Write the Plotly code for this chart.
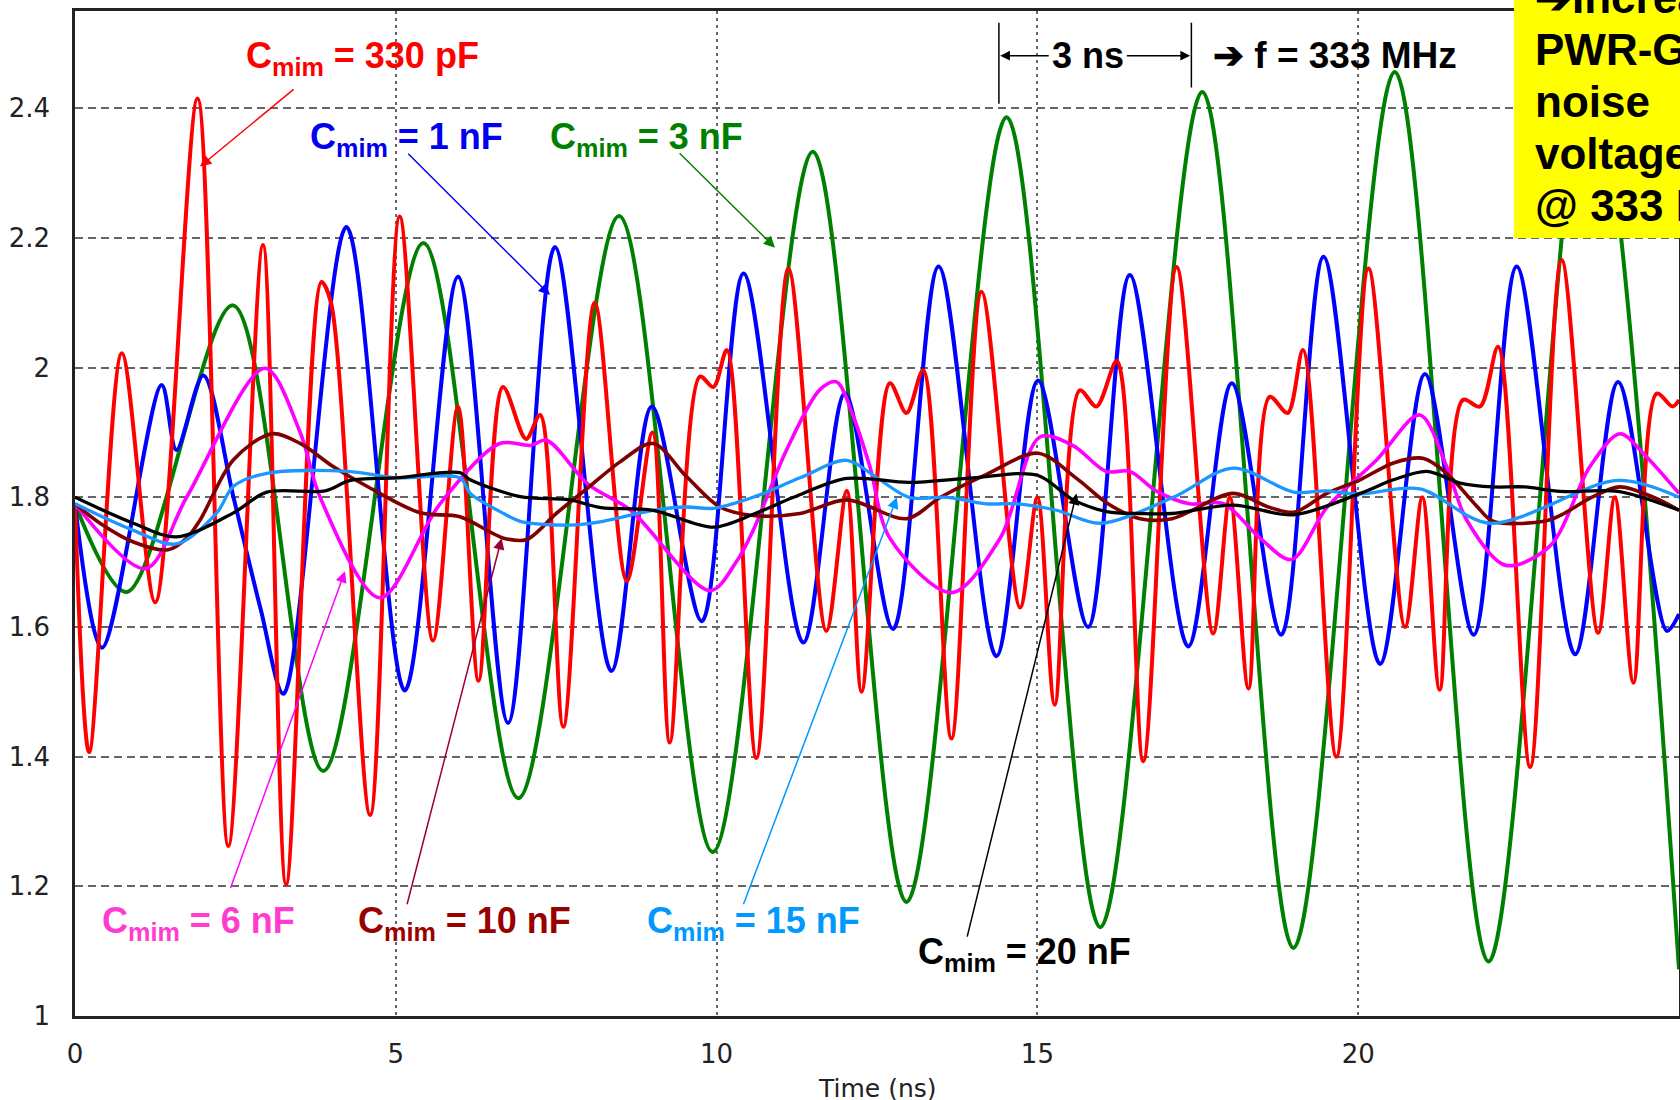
import plotly.graph_objects as go

# ---------------- data ----------------
# C_mim = 330 pF (red)
red_t = [0, 0.22, 0.73, 1.25, 1.91, 2.39, 2.93, 3.29, 3.84, 3.99, 4.6, 5.06, 5.58, 5.97, 6.29,
         6.67, 7.03, 7.25, 7.61, 8.1, 8.6, 9.0, 9.27, 9.74, 9.95, 10.16, 10.62, 11.12, 11.71,
         12.03, 12.26, 12.7, 12.96, 13.22, 13.66, 14.13, 14.73, 15.0, 15.27, 15.66, 15.92, 16.24,
         16.65, 17.17, 17.74, 18.0, 18.29, 18.62, 18.9, 19.14, 19.66, 20.16, 20.73, 21.0, 21.27,
         21.63, 21.9, 22.18, 22.68, 23.17, 23.74, 24.0, 24.29, 24.65, 24.9, 25.0]
red_v = [1.79, 1.407, 2.022, 1.638, 2.415, 1.262, 2.189, 1.203, 2.132, 2.10, 1.31, 2.233, 1.579,
         1.94, 1.517, 1.970, 1.89, 1.927, 1.446, 2.10, 1.671, 1.90, 1.422, 1.986, 1.97, 2.027,
         1.398, 2.153, 1.594, 1.81, 1.50, 1.976, 1.93, 1.996, 1.428, 2.117, 1.63, 1.80, 1.48,
         1.965, 1.94, 2.01, 1.393, 2.155, 1.59, 1.80, 1.505, 1.955, 1.93, 2.027, 1.40, 2.153,
         1.60, 1.80, 1.503, 1.95, 1.94, 2.032, 1.384, 2.166, 1.591, 1.80, 1.514, 1.96, 1.94, 1.95]

# C_mim = 1 nF (blue)
blue_t = [0, 0.42, 1.35, 1.58, 2.0, 2.47, 2.9, 3.25, 4.23, 5.14, 5.97, 6.75, 7.48, 8.36, 8.99,
          9.77, 10.42, 11.35, 12.0, 12.75, 13.46, 14.36, 15.01, 15.79, 16.44, 17.35, 18.03, 18.8,
          19.46, 20.34, 21.04, 21.8, 22.47, 23.38, 24.05, 24.81, 25.0]
blue_v = [1.79, 1.568, 1.973, 1.873, 1.988, 1.80, 1.625, 1.497, 2.217, 1.502, 2.14, 1.452, 2.186,
          1.532, 1.94, 1.609, 2.145, 1.576, 1.96, 1.597, 2.156, 1.555, 1.98, 1.60, 2.143, 1.57,
          1.976, 1.588, 2.171, 1.543, 1.99, 1.588, 2.156, 1.558, 1.978, 1.594, 1.62]

# C_mim = 3 nF (green)
green_t = [0, 0.81, 2.46, 3.87, 5.43, 6.91, 8.48, 9.94, 11.50, 12.96, 14.52, 15.98, 17.57, 18.99,
           20.57, 22.03, 23.6, 25.0]
green_v = [1.79, 1.654, 2.096, 1.378, 2.192, 1.336, 2.234, 1.253, 2.333, 1.176, 2.386, 1.137,
           2.425, 1.105, 2.456, 1.084, 2.48, 1.072]

# C_mim = 6 nF (magenta)
mag_t = [0, 1.1, 1.74, 2.96, 3.51, 3.82, 4.75, 5.69, 6.62, 7.1, 7.35, 8.0, 8.66, 9.9, 10.31,
         10.57, 11.09, 11.61, 11.87, 12.13, 12.39, 12.7, 13.66, 14.42, 15.04, 15.55, 16.07, 16.44,
         16.85, 17.37, 17.9, 18.47, 18.96, 19.51, 20.29, 20.96, 21.38, 21.69, 22.3, 22.99, 23.61,
         24.08, 24.44, 25.0]
mag_v = [1.79, 1.69, 1.80, 1.999, 1.90, 1.80, 1.645, 1.79, 1.883, 1.88, 1.888, 1.82, 1.78, 1.656,
         1.701, 1.749, 1.873, 1.966, 1.978, 1.925, 1.847, 1.737, 1.653, 1.737, 1.893, 1.88, 1.84,
         1.84, 1.81, 1.79, 1.79, 1.737, 1.704, 1.784, 1.858, 1.927, 1.847, 1.765, 1.695, 1.725,
         1.847, 1.898, 1.868, 1.806]

# C_mim = 10 nF (dark red)
dred_t = [0, 0.39, 0.91, 1.45, 1.74, 1.95, 2.47, 3.07, 3.51, 4.03, 4.55, 5.38, 6.0, 6.68, 7.04,
          7.5, 8.0, 8.5, 9.01, 9.53, 10.05, 10.57, 11.3, 12.03, 12.96, 13.49, 14.2, 15.01, 15.6,
          16.1, 16.6, 17.1, 18.05, 18.6, 19.0, 19.51, 20.03, 20.55, 21.02, 21.38, 21.85, 22.1,
          22.9, 23.15, 23.66, 24.08, 24.6, 25.0]
dred_v = [1.79, 1.76, 1.731, 1.719, 1.737, 1.765, 1.858, 1.898, 1.883, 1.847, 1.817, 1.776, 1.77,
          1.737, 1.735, 1.775, 1.815, 1.855, 1.883, 1.832, 1.785, 1.772, 1.775, 1.796, 1.767, 1.80,
          1.835, 1.868, 1.83, 1.79, 1.767, 1.767, 1.806, 1.785, 1.777, 1.806, 1.827, 1.853, 1.86,
          1.837, 1.786, 1.763, 1.763, 1.772, 1.801, 1.816, 1.80, 1.78]

# C_mim = 15 nF (light blue)
lblue_t = [0, 0.91, 1.58, 2.21, 2.47, 2.99, 4.25, 5.0, 6.0, 6.16, 6.68, 6.94, 7.71, 8.23, 9.01,
           9.53, 9.95, 10.57, 11.3, 12.03, 12.5, 13.0, 13.6, 14.2, 14.7, 15.3, 15.98, 17.12,
           18.05, 18.99, 19.5, 20.0, 20.96, 22.05, 24.05, 25.0]
lblue_v = [1.79, 1.749, 1.728, 1.776, 1.817, 1.837, 1.84, 1.83, 1.83, 1.806, 1.775, 1.763, 1.757,
           1.763, 1.78, 1.785, 1.783, 1.80, 1.83, 1.857, 1.83, 1.80, 1.80, 1.79, 1.79, 1.78, 1.76,
           1.80, 1.845, 1.808, 1.81, 1.805, 1.813, 1.76, 1.826, 1.80]

# C_mim = 20 nF (black)
black_t = [0, 0.91, 1.58, 2.47, 2.99, 3.9, 4.29, 5.0, 6.0, 6.16, 6.94, 7.71, 8.2, 9.01, 9.95,
           10.6, 11.2, 12.03, 13.0, 14.0, 15.0, 15.56, 16.08, 16.6, 17.1, 18.05, 18.99, 20.03,
           20.55, 21.07, 21.59, 22.1, 22.6, 23.15, 24.05, 25.0]
black_v = [1.80, 1.76, 1.739, 1.776, 1.808, 1.81, 1.826, 1.83, 1.838, 1.827, 1.801, 1.796, 1.784,
           1.78, 1.754, 1.775, 1.80, 1.829, 1.823, 1.83, 1.834, 1.796, 1.778, 1.775, 1.775, 1.788,
           1.773, 1.806, 1.827, 1.84, 1.822, 1.816, 1.816, 1.809, 1.809, 1.78]

x_ticks = [0, 5, 10, 15, 20]
x_ticktext = ["0", "5", "10", "15", "20"]
y_ticks = [1.0, 1.2, 1.4, 1.6, 1.8, 2.0, 2.2, 2.4]
y_ticktext = ["1", "1.2", "1.4", "1.6", "1.8", "2", "2.2", "2.4"]

# ---------------- figure ----------------
fig = go.Figure()

series = [
    (green_t, green_v, "#008000", 4.0),
    (blue_t, blue_v, "#0000FF", 4.0),
    (red_t, red_v, "#FF0000", 4.0),
    (mag_t, mag_v, "#FF00FF", 3.6),
    (dred_t, dred_v, "#800000", 3.6),
    (lblue_t, lblue_v, "#1E96FF", 3.3),
    (black_t, black_v, "#000000", 3.3),
]
for t, v, c, w in series:
    fig.add_trace(go.Scatter(x=t, y=v, mode="lines",
                             line=dict(color=c, width=w, shape="spline", smoothing=0.9),
                             showlegend=False, hoverinfo="skip"))

LBL = "Liberation Sans, Arial, sans-serif"
labels = [
    ("C<sub>mim</sub> = 330 pF", "#FF0000", 2.634, 2.477),
    ("C<sub>mim</sub> = 1 nF", "#0000F0", 3.63, 2.353),
    ("C<sub>mim</sub> = 3 nF", "#008000", 7.37, 2.353),
    ("C<sub>mim</sub> = 6 nF", "#FF3CCF", 0.39, 1.144),
    ("C<sub>mim</sub> = 10 nF", "#990000", 4.38, 1.144),
    ("C<sub>mim</sub> = 15 nF", "#0099FF", 8.88, 1.144),
    ("C<sub>mim</sub> = 20 nF", "#000000", 13.11, 1.096),
]
for txt, col, x, y in labels:
    fig.add_annotation(x=x, y=y, xref="x", yref="y", text=txt, showarrow=False,
                       xanchor="left", yanchor="middle",
                       font=dict(family=LBL, size=36, color=col, weight="bold"))

arrows = [
    (3.43, 2.431, 1.948, 2.310, "#FF0000"),
    (5.17, 2.332, 7.403, 2.112, "#0000FF"),
    (9.40, 2.333, 10.91, 2.185, "#008000"),
    (2.416, 1.195, 4.208, 1.686, "#FF00FF"),
    (5.17, 1.17, 6.65, 1.737, "#990033"),
    (10.41, 1.17, 12.81, 1.80, "#0099FF"),
    (13.9, 1.12, 15.61, 1.806, "#000000"),
]
for tx, ty, hx, hy, col in arrows:
    fig.add_annotation(x=hx, y=hy, ax=tx, ay=ty, xref="x", yref="y", axref="x", ayref="y",
                       text="", showarrow=True, arrowhead=2, arrowsize=1.5, arrowwidth=1.5,
                       arrowcolor=col, standoff=0, startstandoff=0)

# 3 ns period marker
for xv, ybot in [(14.4, 2.407), (17.4, 2.432)]:
    fig.add_shape(type="line", xref="x", yref="y", x0=xv, x1=xv, y0=ybot, y1=2.532,
                  line=dict(color="black", width=1.5))
for tx, hx in [(15.2, 14.42), (16.37, 17.38)]:
    fig.add_annotation(x=hx, y=2.481, ax=tx, ay=2.481, xref="x", yref="y", axref="x", ayref="y",
                       text="", showarrow=True, arrowhead=2, arrowsize=1.3, arrowwidth=1.5,
                       arrowcolor="black", standoff=0, startstandoff=0)
fig.add_annotation(x=15.2, y=2.481, xref="x", yref="y", text="3 ns", showarrow=False,
                   xanchor="left", yanchor="middle",
                   font=dict(family=LBL, size=36, color="black", weight="bold"))
fig.add_annotation(x=17.71, y=2.481, xref="x", yref="y", text="➔ f = 333 MHz", showarrow=False,
                   xanchor="left", yanchor="middle",
                   font=dict(family=LBL, size=37, color="black", weight="bold"))

# yellow note box (cut by the page edge)
fig.add_shape(type="rect", xref="paper", yref="paper", x0=0.8971, x1=1.05, y0=0.7741, y1=1.05,
              fillcolor="#FFFF00", line=dict(width=0), layer="above")
note_lines = ["➔Increased", "PWR-GND", "noise", "voltage", "@ 333 MHz"]
note_y = [1.0131, 0.9614, 0.9097, 0.8579, 0.8062]
for line_txt, yy in zip(note_lines, note_y):
    fig.add_annotation(x=0.909, y=yy, xref="paper", yref="paper", text=line_txt, showarrow=False,
                       xanchor="left", yanchor="middle",
                       font=dict(family=LBL, size=44, color="black", weight="bold"))

# axis title
fig.add_annotation(x=0.5, y=-0.0725, xref="paper", yref="paper", text="Time (ns)",
                   showarrow=False, xanchor="center", yanchor="middle",
                   font=dict(family="DejaVu Sans", size=25, color="#222"))

TICKF = dict(family="DejaVu Sans", size=26, color="#222")
fig.update_xaxes(range=[0, 25], tickvals=x_ticks, ticktext=x_ticktext, ticks="",
                 showgrid=True, gridcolor="#666", gridwidth=2, griddash="3px,4px",
                 showline=True, linecolor="#222", linewidth=2.5, mirror=True,
                 zeroline=False, tickfont=TICKF, ticklabelstandoff=13, fixedrange=True)
fig.update_yaxes(range=[1, 2.55], tickvals=y_ticks, ticktext=y_ticktext, ticks="",
                 showgrid=True, gridcolor="#666", gridwidth=2, griddash="8px,5px",
                 showline=True, linecolor="#222", linewidth=2.5, mirror=True,
                 zeroline=False, tickfont=TICKF, ticklabelstandoff=17, fixedrange=True)

fig.update_layout(width=1680, height=1100, margin=dict(l=75, r=1, t=11, b=84, autoexpand=False),
                  paper_bgcolor="white", plot_bgcolor="white", showlegend=False)

fig.write_html("out.html", config={"displayModeBar": False})
